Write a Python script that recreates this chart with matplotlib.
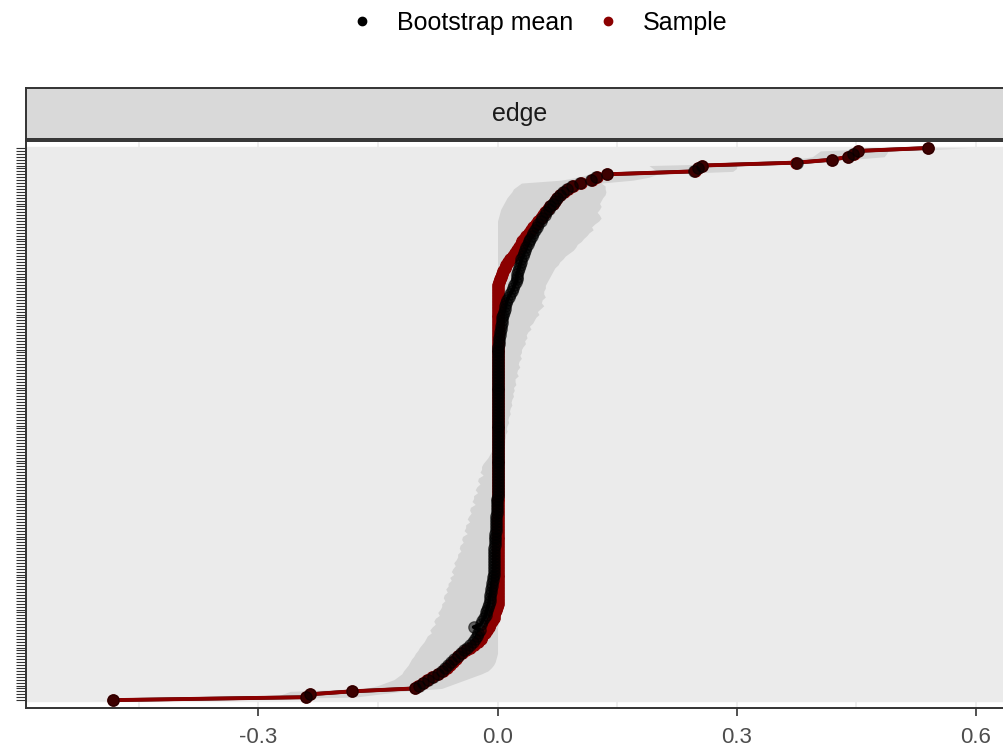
import numpy as np
import matplotlib
matplotlib.use("Agg")
import matplotlib.pyplot as plt
from matplotlib.lines import Line2D

plt.rcParams['font.family'] = ['Liberation Sans', 'DejaVu Sans']

# edges, sorted by sample weight, top -> bottom
sample = np.array(
    [0.540, 0.452, 0.447, 0.440, 0.420, 0.375, 0.256, 0.252, 0.248, 0.137,
     0.125, 0.118, 0.105, 0.095, 0.088, 0.083, 0.079, 0.075, 0.072, 0.069,
     0.066, 0.063, 0.060, 0.057, 0.054, 0.051, 0.048, 0.045, 0.042, 0.039,
     0.036, 0.033, 0.031, 0.029, 0.027, 0.025, 0.022, 0.019, 0.016, 0.013,
     0.011, 0.009, 0.007, 0.005, 0.004, 0.003, 0.002, 0.001]
    + [0.0] * 109
    + [-0.001, -0.002, -0.003, -0.004, -0.005, -0.007, -0.009, -0.011, -0.013, -0.016,
       -0.019, -0.021, -0.025, -0.030, -0.034, -0.039, -0.044, -0.049, -0.052, -0.056,
       -0.060, -0.064, -0.069, -0.075, -0.082, -0.088, -0.094, -0.100, -0.104, -0.183,
       -0.235, -0.240, -0.482])

boot_mean = np.array(
    [0.540, 0.452, 0.446, 0.440, 0.420, 0.376, 0.256, 0.251, 0.246, 0.137,
     0.124, 0.117, 0.104, 0.094, 0.087, 0.082, 0.078, 0.075, 0.072, 0.069,
     0.066, 0.064, 0.061, 0.059, 0.056, 0.054, 0.051, 0.049, 0.047, 0.045,
     0.043, 0.041, 0.039, 0.038, 0.036, 0.035, 0.033, 0.032, 0.030, 0.029,
     0.028, 0.027, 0.026, 0.025, 0.024, 0.024, 0.023, 0.021, 0.020, 0.018,
     0.016, 0.014, 0.012, 0.011, 0.010, 0.009, 0.008, 0.007, 0.006, 0.005,
     0.005, 0.004, 0.004, 0.003, 0.003, 0.002, 0.002, 0.002, 0.001, 0.001,
     0.001, 0.001, 0.001, 0.001, 0.001, 0.001]
    + [0.0] * 44
    + [-0.001, -0.001, -0.001, -0.001, -0.001, -0.001, -0.002, -0.002, -0.002, -0.002,
       -0.002, -0.002, -0.003, -0.003, -0.003, -0.003, -0.003, -0.004, -0.004, -0.004,
       -0.004, -0.004, -0.004, -0.005, -0.005, -0.005, -0.005, -0.006, -0.006, -0.007,
       -0.007, -0.008, -0.008, -0.009, -0.010, -0.010, -0.011,
       -0.012, -0.013, -0.014, -0.015, -0.017, -0.019, -0.021, -0.030, -0.022, -0.024,
       -0.026, -0.028, -0.031, -0.035, -0.038, -0.042, -0.046, -0.050, -0.054, -0.058,
       -0.062, -0.066, -0.070, -0.075, -0.081, -0.087, -0.093, -0.099, -0.104, -0.183,
       -0.235, -0.240, -0.482])

ci_lower = np.array(
    [0.490, 0.405, 0.400, 0.395, 0.370, 0.340, 0.190, 0.195, 0.200, 0.115,
     0.100, 0.080, 0.030, 0.025, 0.020, 0.018, 0.015, 0.012, 0.010, 0.008,
     0.006, 0.004, 0.003, 0.002, 0.001]
    + [0.0] * 35
    + [-0.002] * 40
    + [-0.003, -0.004, -0.005, -0.006, -0.008, -0.010, -0.012, -0.015, -0.018, -0.020,
       -0.020, -0.022, -0.018, -0.024, -0.025, -0.022, -0.026, -0.028, -0.025, -0.030,
       -0.030, -0.032, -0.028, -0.034, -0.035, -0.033, -0.036, -0.038, -0.035, -0.040,
       -0.040, -0.042, -0.038, -0.044, -0.045, -0.043, -0.047, -0.048, -0.046, -0.050,
       -0.050, -0.052, -0.055, -0.053, -0.056, -0.058, -0.055, -0.060, -0.058, -0.062,
       -0.062, -0.065, -0.063, -0.067, -0.068, -0.066, -0.070,
       -0.070, -0.072, -0.075, -0.073, -0.078, -0.080, -0.078, -0.082, -0.085, -0.083,
       -0.088, -0.090, -0.092, -0.095, -0.098, -0.100, -0.103, -0.105, -0.108, -0.110,
       -0.112, -0.115, -0.118, -0.120, -0.125, -0.130, -0.140, -0.150, -0.165, -0.260,
       -0.270, -0.280, -0.510])

ci_upper = np.array(
    [0.590, 0.490, 0.488, 0.485, 0.440, 0.400, 0.300, 0.300, 0.295, 0.200,
     0.190, 0.170, 0.130, 0.135, 0.135, 0.136, 0.135, 0.132, 0.130, 0.128,
     0.130, 0.128, 0.125, 0.128, 0.130, 0.127, 0.122, 0.118, 0.120, 0.115,
     0.112, 0.108, 0.105, 0.100, 0.098, 0.095, 0.090, 0.085, 0.082, 0.078,
     0.076, 0.072, 0.070, 0.068, 0.066, 0.064, 0.062, 0.060, 0.060, 0.058,
     0.058, 0.060, 0.056, 0.055, 0.058, 0.054, 0.050, 0.052, 0.048, 0.046,
     0.044, 0.040, 0.042, 0.038, 0.036, 0.037, 0.034, 0.035, 0.032, 0.030,
     0.030, 0.028, 0.030, 0.027, 0.026, 0.028, 0.025, 0.024, 0.026, 0.022,
     0.022, 0.023, 0.020, 0.021, 0.019, 0.020, 0.018, 0.017, 0.018, 0.016,
     0.015, 0.016, 0.014, 0.013, 0.014, 0.012, 0.011, 0.012, 0.010, 0.010,
     0.009, 0.009, 0.008, 0.008, 0.007, 0.007, 0.006, 0.006, 0.005, 0.005,
     0.005, 0.004, 0.004, 0.004, 0.004, 0.003, 0.003, 0.003, 0.003, 0.003]
    + [0.003] * 37
    + [0.003, 0.003, 0.002, 0.002, 0.002, 0.001, 0.001, 0.000, 0.000, 0.000,
       0.000, 0.000, 0.000, 0.000, 0.000, 0.000, 0.000, -0.001, -0.002, -0.003,
       -0.005, -0.008, -0.012, -0.020, -0.030, -0.040, -0.050, -0.060, -0.070, -0.120,
       -0.150, -0.180, -0.440])

x_ticks = [-0.3, 0.0, 0.3, 0.6]
x_ticklabels = ["-0.3", "0.0", "0.3", "0.6"]
panel_title = "edge"

idx = np.arange(len(sample))
red = "#8B0000"

fig = plt.figure(figsize=(10.04, 7.51), dpi=100)
ax = fig.add_axes([26 / 1004, 1 - 708 / 751, 988 / 1004, 567 / 751])
ax.set_facecolor("white")

ax.fill_betweenx(idx, ci_lower, ci_upper, color="#d4d4d4", lw=0, zorder=2)
ax.plot(boot_mean, idx, color="black", lw=2.6, zorder=3, solid_capstyle="butt")
ax.plot(sample, idx, color=red, lw=2.8, zorder=4, solid_capstyle="butt")
ax.scatter(sample, idx, s=68, color=red, edgecolors=red, lw=0.8, zorder=5)
ax.scatter(boot_mean, idx, s=68, color="black", alpha=0.55, edgecolors="black",
           lw=0.9, zorder=6)

ax.set_xlim(-0.5916, 0.648)
ax.set_ylim(191.7, -2.4)

ax.set_xticks(x_ticks)
ax.set_xticklabels(x_ticklabels)
ax.set_xticks([-0.45, -0.15, 0.15, 0.45], minor=True)
ax.set_yticks(idx)
ax.set_yticklabels([])
ax.tick_params(axis="x", which="major", length=6, width=1.2, color="#333333",
               labelsize=16, labelcolor="#4D4D4D", pad=8)
ax.tick_params(axis="x", which="minor", length=0)
ax.tick_params(axis="y", length=7, width=0.8, color="#333333")

ax.set_axisbelow(True)
ax.grid(True, axis="x", which="both", color="#EBEBEB", lw=1.2)
ax.grid(True, axis="y", which="major", color="#EBEBEB", lw=2.4)
for s in ax.spines.values():
    s.set_color("#333333")
    s.set_linewidth(1.4)

# facet strip
strip = fig.add_axes([26 / 1004, 1 - 139 / 751, 988 / 1004, 51 / 751])
strip.set_facecolor("#D9D9D9")
strip.set_xticks([])
strip.set_yticks([])
for s in strip.spines.values():
    s.set_color("#333333")
    s.set_linewidth(1.4)
strip.text(0.5, 0.5, panel_title, ha="center", va="center", fontsize=18,
           color="#1A1A1A", transform=strip.transAxes)

handles = [Line2D([], [], ls="", marker="o", color="black", markersize=6),
           Line2D([], [], ls="", marker="o", color=red, markersize=6)]
fig.legend(handles, ["Bootstrap mean", "Sample"], loc="center",
           bbox_to_anchor=(540 / 1004, 1 - 23 / 751), ncol=2, frameon=False,
           fontsize=18, handlelength=0.8, handletextpad=1.0, columnspacing=1.0)

fig.savefig("out.png", dpi=100)
